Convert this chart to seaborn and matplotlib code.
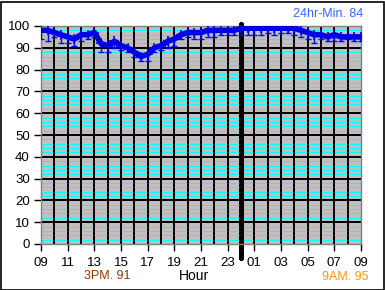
import numpy as np
import pandas as pd
import matplotlib
matplotlib.use("Agg")
import matplotlib.pyplot as plt
import seaborn as sns
from matplotlib.ticker import FixedLocator
from matplotlib.patches import Rectangle

# hours since 09:00, half-hour steps
hours = [i * 0.5 for i in range(49)]
humidity = [98, 98, 97, 96, 95, 94, 96, 96, 97, 92, 91, 93, 91, 90, 88, 86, 87,
            90, 91, 93, 94, 96, 97, 97, 97, 98, 98, 98, 98, 98, 99, 99, 99, 99,
            99, 99, 99, 99, 99, 98, 97, 96, 96, 95, 96, 95, 95, 95, 95]
low = [94, 93, 95, 92, 92, 91, 93, 94, 95, 88, 88, 90, 89, 88, 86, 84, 84,
       88, 89, 90, 91, 94, 95, 94, 94, 95, 95, 96, 96, 96, 96, 96, 96, 96,
       97, 96, 97, 97, 96, 95, 94, 92, 94, 93, 93, 93, 94, 93, 93]
tick_pos = list(range(0, 25, 2))
tick_labels = ["09", "11", "13", "15", "17", "19", "21", "23",
               "01", "03", "05", "07", "09"]
title_text = "24hr-Min. 84"
left_note = "3PM. 91"
right_note = "9AM. 95"
xlabel = "Hour"

df = pd.DataFrame({"hour": hours, "hum": humidity, "low": low})

sns.set_style("white")
plt.rcParams["font.family"] = ["Liberation Sans", "DejaVu Sans"]

fig = plt.figure(figsize=(3.85, 2.90), dpi=100)
ax = fig.add_axes([41 / 385, 46 / 290, 320 / 385, 218 / 290])
ax.set_facecolor("#c0c0c0")

ax.set_xlim(0, 24)
ax.set_ylim(0, 100)

# grid drawn explicitly for control of order
for v in range(2, 100, 2):
    if v % 10 != 0:
        ax.axhline(v, color="#00ffff", lw=0.6, antialiased=False, zorder=0.5)
for v in range(10, 100, 10):
    ax.axhline(v, color="black", lw=1.1, antialiased=False, zorder=1)
for h in range(1, 24):
    ax.axvline(h, color="black", lw=1.1, antialiased=False, zorder=1)

ax.axvline(15, ymin=-0.065, ymax=1.01, color="black", lw=2.5, clip_on=False,
           antialiased=False, zorder=2)

# spikes to low values
ax.errorbar(df["hour"], df["hum"], yerr=[df["hum"] - df["low"], np.zeros(len(df))],
            fmt="none", ecolor="#0000ff", elinewidth=1.0, capsize=2.0, capthick=1.0, zorder=3)
sns.lineplot(data=df, x="hour", y="hum", ax=ax, color="#0000cc", lw=4,
             marker="+", markersize=7, markeredgewidth=1.2, markeredgecolor="#0000ff",
             zorder=4)

ax.xaxis.set_major_locator(FixedLocator(tick_pos))
ax.set_xticklabels(tick_labels)
ax.set_yticks(range(0, 101, 10))
ax.tick_params(axis="both", which="major", direction="out", length=5, width=1,
               color="black", labelsize=9.5, pad=3, labelcolor="black")
ax.tick_params(axis="x", pad=4)
ax.tick_params(left=True, bottom=True)
for s in ax.spines.values():
    s.set_color("#808080")
    s.set_linewidth(1)
ax.set_xlabel("")
ax.set_ylabel("")

fig.text(328 / 385, 1 - 14 / 290, title_text, color="#3366ff", fontsize=9,
         ha="center", va="center")
fig.text(107 / 385, 1 - 276 / 290, left_note, color="#993300", fontsize=9,
         ha="center", va="center")
fig.text(194 / 385, 1 - 276 / 290, xlabel, color="black", fontsize=10,
         ha="center", va="center")
fig.text(345 / 385, 1 - 277 / 290, right_note, color="#ff9900", fontsize=9,
         ha="center", va="center")

fig.patches.append(Rectangle((0.5 / 385, 0.5 / 290), 383 / 385, 288 / 290,
                             transform=fig.transFigure, fill=False,
                             edgecolor="black", lw=1.2))

fig.savefig("out.png", dpi=100, facecolor="white")
